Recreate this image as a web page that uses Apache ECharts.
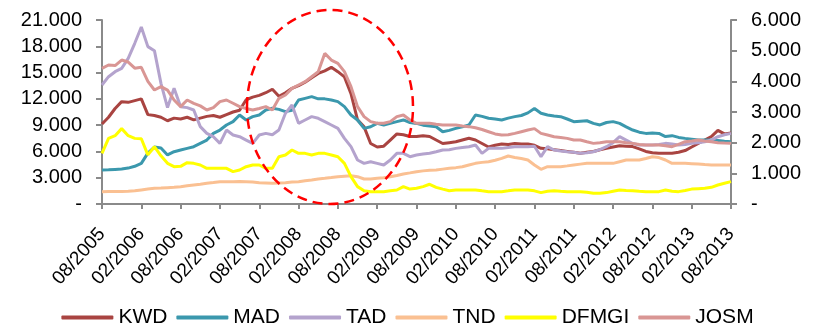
<!DOCTYPE html>
<html>
<head>
<meta charset="utf-8">
<script src="https://cdn.jsdelivr.net/npm/echarts@6/dist/echarts.min.js"></script>
<style>
html,body{margin:0;padding:0;background:#fff;}
#chart{width:815px;height:327px;}
</style>
</head>
<body>
<div id="chart"></div>
<script>
// Monthly readings, index 0 = 08/2005 ... index 96 = 08/2013
const tickLabels = ['08/2005','02/2006','08/2006','02/2007','08/2007','02/2008','08/2008','02/2009','08/2009','02/2010','08/2010','02/2011','08/2011','02/2012','08/2012','02/2013','08/2013'];
const seriesNames = ['KWD','MAD','TAD','TND','DFMGI','JOSM'];

const KWD = [9130,9900,10900,11680,11600,11800,12000,10200,10100,9900,9500,9800,9700,9900,9600,9800,10000,10100,9900,10200,10500,10700,11900,12200,12400,12700,13100,12300,12700,13200,13500,13900,14400,14900,15200,15600,15100,14500,12600,9600,8800,6900,6500,6600,7300,8000,7900,7700,7700,7800,7700,7300,6900,7000,7100,7300,7500,7300,6900,6500,6700,6850,6800,6900,6850,6850,6700,6350,6300,6200,6100,6000,5900,5800,5900,6000,6200,6350,6500,6650,6600,6550,6300,6000,5850,5800,5800,5800,5900,6100,6500,6900,7300,7700,8400,8000,8100];
const MAD = [3880,3900,3950,4000,4100,4300,4640,5800,6500,6400,5600,5970,6160,6350,6540,6920,7300,8060,8440,9020,9400,10160,9590,9970,10160,10730,10920,10800,10540,10700,11870,12060,12250,12000,12000,11870,11680,11110,10160,9590,8630,8820,9210,9020,9200,9400,9590,9300,9200,9000,8900,8820,8250,8400,8630,8800,9020,10160,10000,9780,9700,9590,9800,9970,10100,10400,10900,10350,10160,10050,9970,9700,9400,9450,9500,9200,9020,9300,9400,9200,8800,8440,8200,8060,8100,8060,7700,7800,7600,7490,7400,7300,7300,7300,7250,7150,7110];
const TAD = [13580,14530,15100,15480,16620,18340,20200,17960,17500,13770,11000,13200,11110,11000,10730,8830,8060,7680,6920,8440,7870,7680,7300,6920,7870,8060,7900,8440,10350,11300,9210,9590,9970,9780,9400,9020,8630,7490,6540,5020,4640,4830,4640,4450,5020,5780,5780,5400,5590,5700,5800,5970,6160,6200,6350,6450,6540,6730,5780,6350,6350,6350,6450,6540,6540,6540,6600,5400,6540,6160,6050,5970,5900,5780,5850,5970,6200,6540,7000,7680,7300,6900,6730,6730,6730,6800,6920,6850,6730,6800,6920,7000,7110,7300,7680,7900,8060];
const TND = [1410,1420,1420,1430,1450,1500,1600,1700,1790,1820,1860,1900,1980,2080,2170,2260,2360,2450,2550,2550,2550,2560,2550,2500,2430,2400,2360,2400,2430,2500,2550,2650,2740,2850,2930,3020,3120,3180,3230,3120,2850,2850,2930,3000,3120,3250,3420,3550,3690,3780,3850,3880,3980,4070,4150,4260,4450,4640,4750,4830,5000,5210,5480,5300,5200,5020,4450,3960,4260,4260,4260,4350,4450,4550,4640,4640,4640,4640,4640,4830,5020,5020,5020,5200,5400,5300,5020,4640,4640,4640,4600,4560,4500,4450,4450,4450,4450];
const DFMGI = [5780,7500,7800,8600,7800,7490,7450,5600,6540,5500,4640,4260,4300,4720,4640,4450,4070,4070,4070,4070,3690,3880,4260,4450,4450,4070,4070,5400,5590,6160,5780,5780,5590,5780,5780,5590,5400,4640,3120,1980,1520,1410,1410,1410,1520,1600,1980,1700,1790,1980,2250,1900,1700,1520,1600,1600,1600,1600,1500,1410,1410,1410,1500,1600,1600,1600,1500,1300,1450,1500,1450,1410,1410,1410,1350,1220,1220,1300,1450,1600,1550,1520,1450,1410,1410,1410,1600,1450,1410,1550,1700,1750,1790,1900,2170,2360,2550];
const JOSM = [15480,15860,15800,16430,16200,15500,15600,14000,13010,13390,13000,11870,11110,11870,11490,11200,10730,11000,11680,11870,11500,11110,10900,10730,10900,11110,10730,12060,12440,13200,13580,13960,14530,15100,17190,16430,16050,15100,13390,11110,9970,9400,9210,9210,9400,9970,10160,9590,9210,9210,9210,9100,9020,9020,9020,8900,8830,8700,8500,8250,8000,7870,7900,8060,8250,8440,8600,8060,7870,7680,7600,7490,7300,7300,7100,6920,7000,7110,7110,7110,7000,6920,6800,6730,6730,6730,6650,6540,6800,7110,7200,7300,7200,7110,7000,6950,6920];

const allValues = [KWD, MAD, TAD, TND, DFMGI, JOSM];
const colors = ['#A94441','#3B98AD','#B4A3CD','#FAC092','#FFFF00','#D99694'];

function fmt(v){
  if (v === 0) return '-';
  const th = Math.floor(v/1000), r = v % 1000;
  return th + '.' + String(r).padStart(3,'0');
}

const chart = echarts.init(document.getElementById('chart'), null, {renderer:'canvas'});
const axisLineStyle = {color:'#8a8a8a', width:2};
const FONT = 'Liberation Sans, Arial, sans-serif';

chart.setOption({
  animation:false,
  backgroundColor:'#ffffff',
  color: colors,
  grid:{left:102, right:84, top:20, bottom:123, containLabel:false, outerBoundsMode:'none'},
  legend:{
    data: seriesNames,
    left:'center', top:302,
    icon:'roundRect', itemWidth:52, itemHeight:4, itemGap:9,
    textStyle:{fontFamily:FONT, fontSize:21, color:'#000'}
  },
  xAxis:{
    type:'value', min:0, max:96, interval:6,
    axisLine:{show:true, lineStyle:axisLineStyle},
    axisTick:{show:true, length:5, lineStyle:axisLineStyle},
    splitLine:{show:false},
    axisLabel:{rotate:48, margin:27, fontFamily:FONT, fontSize:19, color:'#000',
      formatter:function(v){ return tickLabels[Math.round(v/6)] || ''; }}
  },
  yAxis:[
    {type:'value', min:0, max:21000, interval:3000, position:'left',
     axisLine:{show:true, lineStyle:axisLineStyle},
     axisTick:{show:true, length:6, lineStyle:axisLineStyle},
     splitLine:{show:false},
     axisLabel:{margin:20, fontFamily:FONT, fontSize:20, color:'#000', formatter:fmt}},
    {type:'value', min:0, max:6000, interval:1000, position:'right',
     axisLine:{show:true, lineStyle:axisLineStyle},
     axisTick:{show:true, length:6, lineStyle:axisLineStyle},
     splitLine:{show:false},
     axisLabel:{margin:20, fontFamily:FONT, fontSize:20, color:'#000', formatter:fmt}}
  ],
  series: seriesNames.map(function(name, i){
    return {
      name:name, type:'line', yAxisIndex:0, symbol:'none', smooth:false,
      lineStyle:{width:3, color:colors[i]}, itemStyle:{color:colors[i]},
      data: allValues[i].map(function(v, m){ return [m, v]; }),
      z: 2 + i
    };
  }),
  graphic:[{
    type:'ellipse', z:100,
    shape:{cx:330, cy:107, rx:83, ry:97},
    style:{fill:null, stroke:'#FF0000', lineWidth:2.5, lineDash:[10,6]}
  }]
});
</script>
</body>
</html>
